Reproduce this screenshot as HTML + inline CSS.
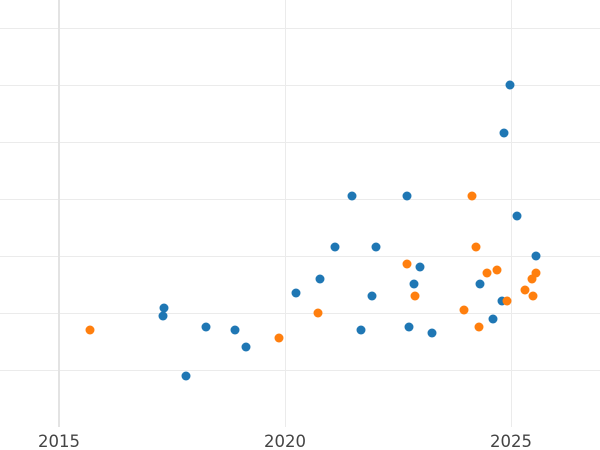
<!DOCTYPE html>
<html><head><meta charset="utf-8"><style>body{margin:0;background:#fff}svg{display:block}</style></head><body>
<svg width="600" height="450" xmlns="http://www.w3.org/2000/svg">
<g stroke="#ebebeb" stroke-width="1">
<line x1="0" x2="600" y1="28.5" y2="28.5"/><line x1="0" x2="600" y1="85.5" y2="85.5"/>
<line x1="0" x2="600" y1="142.5" y2="142.5"/><line x1="0" x2="600" y1="199.5" y2="199.5"/>
<line x1="0" x2="600" y1="256.5" y2="256.5"/><line x1="0" x2="600" y1="313.5" y2="313.5"/>
<line x1="0" x2="600" y1="370.5" y2="370.5"/>
<line x1="285.5" x2="285.5" y1="0" y2="427"/><line x1="511.5" x2="511.5" y1="0" y2="427"/>
</g>
<line x1="59" x2="59" y1="0" y2="427" stroke="#e3e3e3" stroke-width="2"/>
<g font-family="DejaVu Sans, sans-serif" font-size="16.5" fill="#444" text-anchor="middle">
<text x="59" y="447">2015</text><text x="285" y="447">2020</text><text x="511" y="447">2025</text>
</g>
<g fill="#1f77b4">
<circle cx="164" cy="308" r="4.5"/><circle cx="163" cy="316" r="4.5"/><circle cx="186" cy="376" r="4.5"/>
<circle cx="206" cy="327" r="4.5"/><circle cx="235" cy="330" r="4.5"/><circle cx="246" cy="347" r="4.5"/>
<circle cx="296" cy="293" r="4.5"/><circle cx="320" cy="279" r="4.5"/><circle cx="335" cy="247" r="4.5"/>
<circle cx="352" cy="196" r="4.5"/><circle cx="361" cy="330" r="4.5"/><circle cx="372" cy="296" r="4.5"/>
<circle cx="376" cy="247" r="4.5"/><circle cx="407" cy="196" r="4.5"/><circle cx="409" cy="327" r="4.5"/>
<circle cx="414" cy="284" r="4.5"/><circle cx="420" cy="267" r="4.5"/><circle cx="432" cy="333" r="4.5"/>
<circle cx="480" cy="284" r="4.5"/><circle cx="493" cy="319" r="4.5"/><circle cx="502" cy="301" r="4.5"/>
<circle cx="504" cy="133" r="4.5"/><circle cx="510" cy="85" r="4.5"/><circle cx="517" cy="216" r="4.5"/>
<circle cx="536" cy="256" r="4.5"/>
</g>
<g fill="#ff7f0e">
<circle cx="90" cy="330" r="4.5"/><circle cx="279" cy="338" r="4.5"/><circle cx="318" cy="313" r="4.5"/>
<circle cx="407" cy="264" r="4.5"/><circle cx="415" cy="296" r="4.5"/><circle cx="464" cy="310" r="4.5"/>
<circle cx="472" cy="196" r="4.5"/><circle cx="476" cy="247" r="4.5"/><circle cx="479" cy="327" r="4.5"/>
<circle cx="487" cy="273" r="4.5"/><circle cx="497" cy="270" r="4.5"/><circle cx="507" cy="301" r="4.5"/>
<circle cx="525" cy="290" r="4.5"/><circle cx="532" cy="279" r="4.5"/><circle cx="536" cy="273" r="4.5"/>
<circle cx="533" cy="296" r="4.5"/>
</g>
</svg>
</body></html>
